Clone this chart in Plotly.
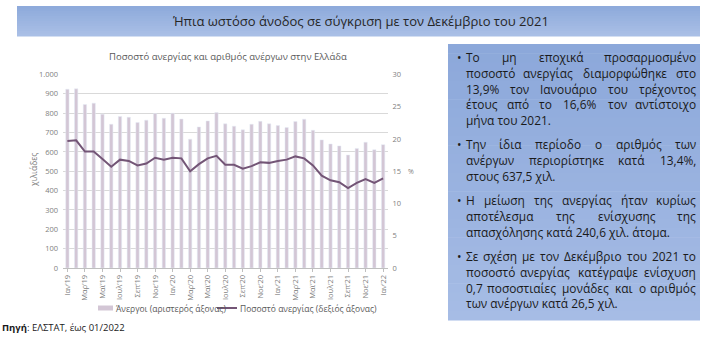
import plotly.graph_objects as go

# ---------------- data ----------------
months = ["Ιαν’19", "Φεβ’19", "Μαρ’19", "Απρ’19", "Μαϊ’19", "Ιουν’19", "Ιουλ’19", "Αυγ’19",
          "Σεπ’19", "Οκτ’19", "Νοε’19", "Δεκ’19",
          "Ιαν’20", "Φεβ’20", "Μαρ’20", "Απρ’20", "Μαϊ’20", "Ιουν’20", "Ιουλ’20", "Αυγ’20",
          "Σεπ’20", "Οκτ’20", "Νοε’20", "Δεκ’20",
          "Ιαν’21", "Φεβ’21", "Μαρ’21", "Απρ’21", "Μαϊ’21", "Ιουν’21", "Ιουλ’21", "Αυγ’21",
          "Σεπ’21", "Οκτ’21", "Νοε’21", "Δεκ’21",
          "Ιαν’22"]
unemployed = [924, 926, 845, 852, 795, 743, 783, 779, 752, 764, 798, 774,
              800, 770, 666, 729, 760, 803, 745, 733, 714, 743, 758, 745,
              736, 726, 757, 769, 712, 662, 641, 631, 584, 618, 650, 611,
              637.5]
rate = [19.7, 19.8, 18.05, 18.05, 16.9, 15.7, 16.8, 16.6, 15.9, 16.2, 17.1, 16.8,
        17.1, 17.0, 15.0, 16.1, 17.0, 17.4, 16.0, 16.0, 15.4, 15.8, 16.4, 16.3,
        16.6, 16.8, 17.3, 17.0, 15.9, 14.3, 13.6, 13.3, 12.4, 13.2, 13.8, 13.2,
        13.9]
tick_labels = months[::2]

bar_name = "Άνεργοι (αριστερός άξονας)"
line_name = "Ποσοστό ανεργίας (δεξιός άξονας)"
chart_title = "Ποσοστό ανεργίας και αριθμός ανέργων στην Ελλάδα"
header = "Ήπια ωστόσο άνοδος σε σύγκριση με τον Δεκέμβριο του 2021"

paragraphs = [
    [("Το μη εποχικά προσαρμοσμένο", True),
     ("ποσοστό ανεργίας διαμορφώθηκε στο", True),
     ("13,9% τον Ιανουάριο του τρέχοντος", True),
     ("έτους από το 16,6% τον αντίστοιχο", True),
     ("μήνα του 2021.", False)],
    [("Την ίδια περίοδο ο αριθμός των", True),
     ("ανέργων περιορίστηκε κατά 13,4%,", True),
     ("στους 637,5 χιλ.", False)],
    [("Η μείωση της ανεργίας ήταν κυρίως", True),
     ("αποτέλεσμα της ενίσχυσης της", True),
     ("απασχόλησης κατά 240,6 χιλ. άτομα.", False)],
    [("Σε σχέση με τον Δεκέμβριο του 2021 το", True),
     ("ποσοστό ανεργίας κατέγραψε ενίσχυση", True),
     ("0,7 ποσοστιαίες μονάδες και ο αριθμός", True),
     ("των ανέργων κατά 26,5 χιλ.", False)],
]

# ---------------- styling ----------------
W, H = 708, 340
BAR = "#d3c6d5"
LINE = "#735576"
GRID = "#d9d9d9"
TICK = "#808080"
FONT = "Open Sans"


def px(x):
    return x / W


def py(y):
    return 1 - y / H


fig = go.Figure()
fig.add_trace(go.Bar(x=months, y=unemployed, marker_color=BAR, name=bar_name,
                     yaxis="y", showlegend=False, hoverinfo="x+y"))
fig.add_trace(go.Scatter(x=months, y=rate, mode="lines", name=line_name,
                         line=dict(color=LINE, width=2), yaxis="y2",
                         showlegend=False))

shapes = []
annotations = []


def lerp_color(c1, c2, t):
    a = [int(c1[i:i + 2], 16) for i in (1, 3, 5)]
    b = [int(c2[i:i + 2], 16) for i in (1, 3, 5)]
    return "#%02x%02x%02x" % tuple(round(a[k] + (b[k] - a[k]) * t) for k in range(3))


def gradient_rect(x0, y0, x1, y1, ctop, cbot, n=24):
    h = (y1 - y0) / n
    for i in range(n):
        shapes.append(dict(type="rect", xref="paper", yref="paper",
                           x0=px(x0), x1=px(x1), y0=py(y0 + (i + 1) * h + 0.5), y1=py(y0 + i * h),
                           fillcolor=lerp_color(ctop, cbot, i / (n - 1)),
                           line=dict(width=0), layer="below"))


# header band
gradient_rect(17, 6, 700, 36, "#8eaadb", "#a9bfe6", n=12)
annotations.append(dict(text=header, x=px(360), y=py(20.5), xref="paper", yref="paper",
                        showarrow=False, xanchor="center", yanchor="middle",
                        font=dict(family=FONT, size=13, color="#262626")))

# text box
gradient_rect(448, 44, 700, 320, "#8ca8da", "#a6bce5", n=30)

CW = {' ': 0.26, 'ι': 0.28, 'ί': 0.28, 'ϊ': 0.28, ',': 0.25, '.': 0.26, '%': 0.82,
      'μ': 0.6, 'ω': 0.76, 'ώ': 0.76, 'φ': 0.74, 'ψ': 0.76, 'τ': 0.46, 'ς': 0.47,
      'ε': 0.5, 'έ': 0.5, 'γ': 0.52, 'χ': 0.53, 'ν': 0.52, 'λ': 0.54, 'Ι': 0.3,
      'Τ': 0.56, 'Η': 0.74, 'Σ': 0.56, 'Δ': 0.62, 'κ': 0.53}


def text_w(s, size):
    return 1.03 * sum(CW.get(c, 0.57 if c.isdigit() else 0.58) for c in s) * size


TS = 11.9
XL, XR = 465, 697
line_gap = 15.8
para_gap = 24.2
TXT = dict(family=FONT, size=TS, color="#1a1a1a")
y = 57
for para in paragraphs:
    annotations.append(dict(text="•", x=px(456), y=py(y), xref="paper", yref="paper",
                            showarrow=False, xanchor="left", yanchor="middle",
                            borderpad=0, font=TXT))
    for k, (ln, just) in enumerate(para):
        if not just:
            annotations.append(dict(text=ln, x=px(XL), y=py(y), xref="paper", yref="paper",
                                    showarrow=False, xanchor="left", yanchor="middle",
                                    borderpad=0, font=TXT))
        else:
            words = ln.split(" ")
            ws = [text_w(w, TS) for w in words]
            gap = (XR - XL - sum(ws)) / (len(words) - 1)
            xpos = XL
            for i, w in enumerate(words):
                if i == 0:
                    ax, anc = XL, "left"
                elif i == len(words) - 1:
                    ax, anc = XR, "right"
                else:
                    ax, anc = xpos + ws[i] / 2, "center"
                annotations.append(dict(text=w, x=px(ax), y=py(y), xref="paper", yref="paper",
                                        showarrow=False, xanchor=anc, yanchor="middle",
                                        borderpad=0, font=TXT))
                xpos += ws[i] + gap
        y += line_gap if k < len(para) - 1 else para_gap

# chart title
annotations.append(dict(text=chart_title, x=px(228), y=py(57), xref="paper", yref="paper",
                        showarrow=False, xanchor="center", yanchor="middle",
                        font=dict(family=FONT, size=9.5, color="#595959")))
# axis titles
annotations.append(dict(text="χιλιάδες", x=px(33), y=py(170), xref="paper", yref="paper",
                        showarrow=False, textangle=-90, xanchor="center", yanchor="middle",
                        font=dict(family=FONT, size=8.5, color=TICK)))
annotations.append(dict(text="%", x=px(411), y=py(171), xref="paper", yref="paper",
                        showarrow=False, xanchor="center", yanchor="middle",
                        font=dict(family=FONT, size=7, color=TICK)))

# legend (manual)
shapes.append(dict(type="rect", xref="paper", yref="paper", x0=px(98), x1=px(113),
                   y0=py(310.5), y1=py(305.5), fillcolor=BAR, line=dict(width=0)))
annotations.append(dict(text=bar_name, x=px(114), y=py(308), xref="paper", yref="paper",
                        showarrow=False, xanchor="left", yanchor="middle",
                        font=dict(family=FONT, size=8.5, color="#595959")))
shapes.append(dict(type="line", xref="paper", yref="paper", x0=px(217), x1=px(237),
                   y0=py(308), y1=py(308), line=dict(color=LINE, width=2)))
annotations.append(dict(text=line_name, x=px(238), y=py(308), xref="paper", yref="paper",
                        showarrow=False, xanchor="left", yanchor="middle",
                        font=dict(family=FONT, size=8.5, color="#595959")))

# source
annotations.append(dict(text="<b>Πηγή</b>: ΕΛΣΤΑΤ, έως 01/2022", x=px(0), y=py(327),
                        xref="paper", yref="paper", showarrow=False, xanchor="left",
                        yanchor="middle", font=dict(family=FONT, size=9.5, color="#1a1a1a")))

fig.update_layout(
    width=W, height=H,
    margin=dict(l=0, r=0, t=0, b=0),
    paper_bgcolor="white", plot_bgcolor="white",
    separators=",.",
    bargap=0.62,
    showlegend=False,
    font=dict(family=FONT, color=TICK),
    xaxis=dict(domain=[px(63), px(387.5)], type="category", categoryorder="array",
               categoryarray=months, tickvals=tick_labels, ticktext=tick_labels,
               tickangle=-90, tickfont=dict(size=7.5, color=TICK), showgrid=False,
               showline=True, linecolor="#bfbfbf", linewidth=1, ticks="outside",
               ticklen=3, tickcolor="#bfbfbf", automargin=False, anchor="y"),
    yaxis=dict(domain=[1 - 268 / H, 1 - 74.5 / H], range=[0, 1000], dtick=100,
               tickformat=",d", gridcolor=GRID, gridwidth=1, zeroline=False,
               showline=False, tickfont=dict(size=7.5, color=TICK), automargin=False,
               ticklabelstandoff=4),
    yaxis2=dict(overlaying="y", side="right", range=[0, 30], dtick=5, showgrid=False,
                zeroline=False, showline=False, tickfont=dict(size=7.5, color=TICK),
                automargin=False, anchor="x", ticklabelstandoff=4),
    shapes=shapes,
    annotations=annotations,
)

fig.write_html("out.html")
